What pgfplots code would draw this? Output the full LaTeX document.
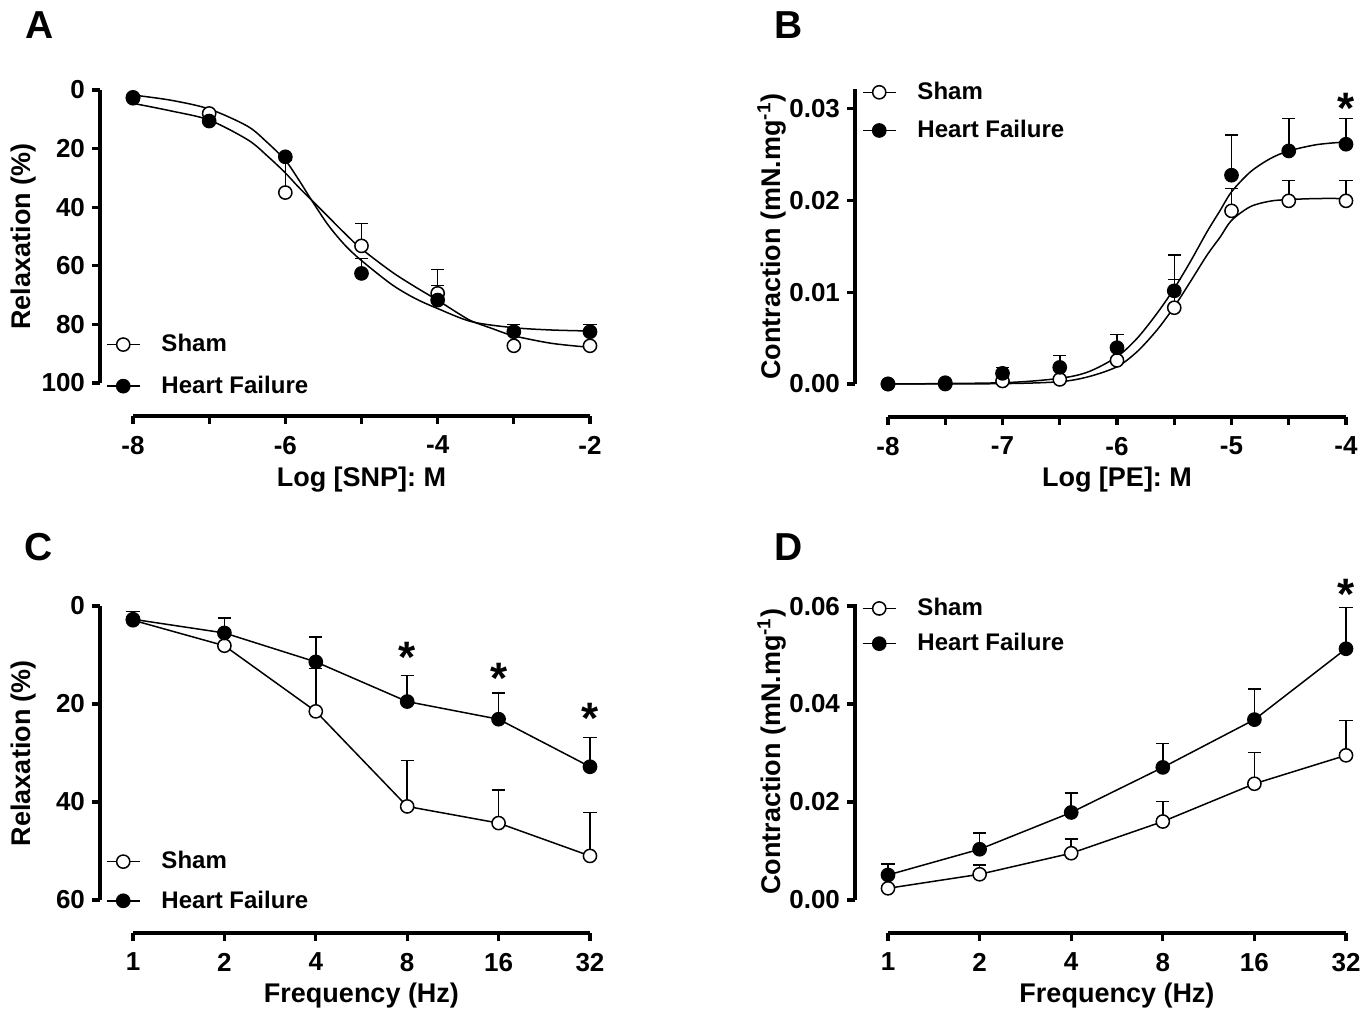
\documentclass[border=0pt]{standalone}
\usepackage{fontspec}
\setmainfont{Liberation Sans}
\usepackage{pgfplots}
\pgfplotsset{compat=1.18}

\tikzset{
  astk/.style={anchor=north, inner sep=0pt, yshift=3.6pt,
    font=\fontsize{22}{22}\selectfont\bfseries},
}
\pgfplotsset{
  gp/.style={
    scale only axis,
    anchor=south west,
    axis x line*=bottom,
    axis y line*=left,
    axis x line shift=16.5pt,
    axis y line shift=16.5pt,
    axis line style={line width=2pt},
    tick align=outside,
    major tick length=4pt,
    tick style={black, line width=1.6pt},
    scaled y ticks=false,
    tick label style={font=\fontsize{13}{13}\selectfont\bfseries},
    xticklabel style={yshift=-2.5pt},
    label style={font=\fontsize{13.5}{13.5}\selectfont\bfseries},
    clip=false,
    legend style={draw=none, fill=none, inner sep=0pt, outer sep=0pt,
      font=\fontsize{12}{12}\selectfont\bfseries, anchor=north west,
      nodes={inner sep=0pt}, column sep=10.5pt},
    legend cell align=left,
    legend image code/.code={
      \draw[mark repeat=2, mark phase=2, #1] plot coordinates {(0pt,0pt) (8.25pt,0pt) (16.5pt,0pt)};
    },
  },
  crv/.style={black, line width=0.75pt, mark=none, forget plot},
  shm/.style={only marks, mark=*, mark size=3.3pt, forget plot,
    mark options={fill=white, draw=black, line width=0.75pt}},
  hfm/.style={only marks, mark=*, mark size=3.3pt, forget plot,
    mark options={fill=black, draw=black, line width=0.75pt}},
  errm/.style={draw=none, mark=none, forget plot,
    error bars/.cd, y dir=minus, y explicit, error mark=-,
    error bar style={draw=black, line width=0.75pt},
    error mark options={rotate=90, draw=black, line width=0.75pt, mark size=3.3pt}},
  errp/.style={draw=none, mark=none, forget plot,
    error bars/.cd, y dir=plus, y explicit, error mark=-,
    error bar style={draw=black, line width=0.75pt},
    error mark options={rotate=90, draw=black, line width=0.75pt, mark size=3.3pt}},
}

\begin{document}
\bfseries
\begin{tikzpicture}
\path[use as bounding box] (0,0) rectangle (685pt,-506pt);

% ---------------- A ----------------
\begin{axis}[gp, at={(66.5pt,-191.5pt)}, width=228.5pt, height=146.5pt,
  xmin=-8, xmax=-2, ymin=0, ymax=100, y dir=reverse,
  xtick={-8,-7,-6,-5,-4,-3,-2}, xticklabels={-8,,-6,,-4,,-2},
  ytick={0,20,40,60,80,100}, yticklabels={0,20,40,60,80,100},
  xlabel={Log [SNP]: M}, ylabel={Relaxation (\%)},
  xlabel style={at={(axis description cs:0.5,-0.331)}, anchor=center},
  ylabel style={at={(axis description cs:-0.2385,0.5)}, anchor=center},
  legend style={at={(axis description cs:-0.0591,0.166)}, row sep=10.6pt},
]
\addlegendimage{black, line width=0.75pt, mark=*, mark size=3.3pt, mark options={fill=white}}
\addlegendentry{Sham}
\addlegendimage{black, line width=0.75pt, mark=*, mark size=3.3pt, mark options={fill=black}}
\addlegendentry{Heart Failure}
\addplot[errm] table[x=x, y=y, y error=e] {
x y e
-6 35.0 11.0
-5 53.2 7.7
-4 69.4 8.2
};
\addplot[errm] table[x=x, y=y, y error=e] {
x y e
-5 62.6 5.1
-4 71.7 4.9
-3 82.5 2.5
-2 82.5 2.5
};
\addplot[crv, smooth] coordinates {
(-8,1.71) (-7.5,3.5) (-7.0,6.48) (-6.5,12.3) (-6.25,17.6) (-6.0,24.0)
(-5.83,30.4) (-5.657,37.54) (-5.438,46.08) (-5.219,52.90) (-5.009,58.02)
(-4.606,66.33) (-4.299,71.10) (-4.006,74.52) (-3.555,79.07) (-3.007,81.11)
(-2.504,81.91) (-2,82.25)};
\addplot[crv, smooth] coordinates {
(-8,4.55) (-7.496,7.17) (-7.001,10.24) (-6.489,17.06) (-6.226,22.75) (-6.007,28.10)
(-5.832,32.99) (-5.657,37.54) (-5.438,43.23) (-5.219,48.92) (-5.009,54.04)
(-4.606,62.00) (-4.299,67.12) (-4.006,71.67) (-3.730,76.22) (-3.555,78.84)
(-3.292,81.34) (-3.007,83.85) (-2.504,86.46) (-2,87.83)};
\addplot[shm] coordinates {(-8,2.5) (-7,8.0) (-6,35.0) (-5,53.2) (-4,69.4) (-3,87.3) (-2,87.3)};
\addplot[hfm] coordinates {(-8,2.8) (-7,10.6) (-6,22.8) (-5,62.6) (-4,71.7) (-3,82.5) (-2,82.5)};
\end{axis}

% ---------------- B ----------------
\begin{axis}[gp, at={(444pt,-192pt)}, width=229pt, height=147.5pt,
  xmin=-8, xmax=-4, ymin=0, ymax=0.0321,
  xtick={-8,-7.5,-7,-6.5,-6,-5.5,-5,-4.5,-4}, xticklabels={-8,,-7,,-6,,-5,,-4},
  ytick={0,0.01,0.02,0.03}, yticklabels={0.00,0.01,0.02,0.03},
  xlabel={Log [PE]: M}, ylabel={Contraction (mN.mg\textsuperscript{-1})},
  xlabel style={at={(axis description cs:0.5,-0.325)}, anchor=center},
  ylabel style={at={(axis description cs:-0.2535,0.5)}, anchor=center},
  legend style={at={(axis description cs:-0.0568,1.0234)}, row sep=8.9pt},
]
\addlegendimage{black, line width=0.75pt, mark=*, mark size=3.3pt, mark options={fill=white}}
\addlegendentry{Sham}
\addlegendimage{black, line width=0.75pt, mark=*, mark size=3.3pt, mark options={fill=black}}
\addlegendentry{Heart Failure}
\addplot[errp] table[x=x, y=y, y error=e] {
x y e
-5.5 0.0083 0.00308
-5 0.01884 0.00243
-4.5 0.01993 0.00224
-4 0.01993 0.00224
};
\addplot[errp] table[x=x, y=y, y error=e] {
x y e
-7 0.00116 0.00062
-6.5 0.00181 0.00127
-6 0.00395 0.00145
-5.5 0.01014 0.00388
-5 0.02272 0.00435
-4.5 0.02536 0.00352
-4 0.02609 0.00279
};
\addplot[crv, smooth] coordinates {
(-8,0) (-7.0,0.00004) (-6.5,0.00025) (-6.247,0.0008) (-6.0,0.00188) (-5.825,0.00351)
(-5.651,0.00587) (-5.5,0.00841) (-5.36,0.01112) (-5.214,0.01402) (-5.098,0.01601)
(-5.0,0.0178) (-4.835,0.0193) (-4.661,0.0199) (-4.5,0.02007) (-4.253,0.02018) (-4,0.02018)};
\addplot[crv, smooth] coordinates {
(-8,0) (-7.0,0.00014) (-6.5,0.00062) (-6.247,0.00134) (-6.0,0.00297) (-5.825,0.00496)
(-5.651,0.00768) (-5.5,0.0104) (-5.36,0.0133) (-5.214,0.01656) (-5.098,0.01891)
(-5.0,0.02091) (-4.835,0.02308) (-4.661,0.02453) (-4.5,0.02536) (-4.253,0.02605) (-4,0.02634)};
\addplot[shm] coordinates {(-8,0) (-7.5,0) (-7,0.00033) (-6.5,0.0005) (-6,0.00257) (-5.5,0.0083) (-5,0.01884) (-4.5,0.01993) (-4,0.01993)};
\addplot[hfm] coordinates {(-8,0) (-7.5,0.00014) (-7,0.00116) (-6.5,0.00181) (-6,0.00395) (-5.5,0.01014) (-5,0.02272) (-4.5,0.02536) (-4,0.02609)};
\node[astk] at (axis cs:-4,0.0309) {*};
\end{axis}

% ---------------- C ----------------
\begin{axis}[gp, at={(66.5pt,-450pt)}, width=228.5pt, height=147pt,
  xmin=0, xmax=5, ymin=0, ymax=60, y dir=reverse,
  xtick={0,1,2,3,4,5}, xticklabels={1,2,4,8,16,32},
  ytick={0,20,40,60}, yticklabels={0,20,40,60},
  xlabel={Frequency (Hz)}, ylabel={Relaxation (\%)},
  xlabel style={at={(axis description cs:0.5,-0.3265)}, anchor=center},
  ylabel style={at={(axis description cs:-0.2385,0.5)}, anchor=center},
  legend style={at={(axis description cs:-0.0591,0.1653)}, row sep=9.4pt},
]
\addlegendimage{black, line width=0.75pt, mark=*, mark size=3.3pt, mark options={fill=white}}
\addlegendentry{Sham}
\addlegendimage{black, line width=0.75pt, mark=*, mark size=3.3pt, mark options={fill=black}}
\addlegendentry{Heart Failure}
\addplot[errm] table[x=x, y=y, y error=e] {
x y e
2 21.5 8.7
3 40.9 9.4
4 44.3 6.8
5 51.0 8.9
};
\addplot[errm] table[x=x, y=y, y error=e] {
x y e
0 2.7 1.6
1 5.5 3.1
2 11.4 5.1
3 19.5 5.3
4 23.1 5.3
5 32.8 6.0
};
\addplot[crv] coordinates {(0,2.9) (1,8.1) (2,21.5) (3,40.9) (4,44.3) (5,51.0)};
\addplot[crv] coordinates {(0,2.7) (1,5.5) (2,11.4) (3,19.5) (4,23.1) (5,32.8)};
\addplot[shm] coordinates {(0,2.9) (1,8.1) (2,21.5) (3,40.9) (4,44.3) (5,51.0)};
\addplot[hfm] coordinates {(0,2.7) (1,5.5) (2,11.4) (3,19.5) (4,23.1) (5,32.8)};
\node[astk] at (axis cs:3,8.8) {*};
\node[astk] at (axis cs:4,13.1) {*};
\node[astk] at (axis cs:5,21.2) {*};
\end{axis}

% ---------------- D ----------------
\begin{axis}[gp, at={(444pt,-450pt)}, width=229pt, height=148.2pt,
  xmin=0, xmax=5, ymin=0, ymax=0.0605,
  xtick={0,1,2,3,4,5}, xticklabels={1,2,4,8,16,32},
  ytick={0,0.02,0.04,0.06}, yticklabels={0.00,0.02,0.04,0.06},
  xlabel={Frequency (Hz)}, ylabel={Contraction (mN.mg\textsuperscript{-1})},
  xlabel style={at={(axis description cs:0.5,-0.3238)}, anchor=center},
  ylabel style={at={(axis description cs:-0.2535,0.5)}, anchor=center},
  legend style={at={(axis description cs:-0.0568,1.018)}, row sep=7.4pt},
]
\addlegendimage{black, line width=0.75pt, mark=*, mark size=3.3pt, mark options={fill=white}}
\addlegendentry{Sham}
\addlegendimage{black, line width=0.75pt, mark=*, mark size=3.3pt, mark options={fill=black}}
\addlegendentry{Heart Failure}
\addplot[errp] table[x=x, y=y, y error=e] {
x y e
1 0.00525 0.00191
2 0.00955 0.00293
3 0.01602 0.0041
4 0.02373 0.00641
5 0.02953 0.00709
};
\addplot[errp] table[x=x, y=y, y error=e] {
x y e
0 0.00511 0.00225
1 0.01036 0.00328
2 0.01787 0.00395
3 0.02707 0.00484
4 0.03682 0.00628
5 0.05128 0.00838
};
\addplot[crv] coordinates {(0,0.00239) (1,0.00525) (2,0.00955) (3,0.01602) (4,0.02373) (5,0.02953)};
\addplot[crv] coordinates {(0,0.00511) (1,0.01036) (2,0.01787) (3,0.02707) (4,0.03682) (5,0.05128)};
\addplot[shm] coordinates {(0,0.00239) (1,0.00525) (2,0.00955) (3,0.01602) (4,0.02373) (5,0.02953)};
\addplot[hfm] coordinates {(0,0.00511) (1,0.01036) (2,0.01787) (3,0.02707) (4,0.03682) (5,0.05128)};
\node[astk] at (axis cs:5,0.0641) {*};
\end{axis}

\node[font=\fontsize{19.5}{19.5}\selectfont\bfseries] at (20pt,-12.75pt) {A};
\node[font=\fontsize{19.5}{19.5}\selectfont\bfseries] at (394.5pt,-12.75pt) {B};
\node[font=\fontsize{19.5}{19.5}\selectfont\bfseries] at (19.5pt,-273.5pt) {C};
\node[font=\fontsize{19.5}{19.5}\selectfont\bfseries] at (394.5pt,-273.5pt) {D};
\end{tikzpicture}
\end{document}
